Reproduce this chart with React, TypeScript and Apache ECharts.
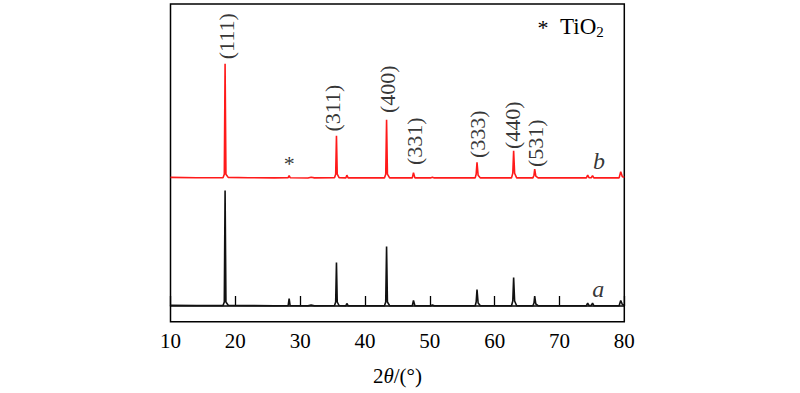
import React, { useEffect, useRef } from "react";
import * as echarts from "echarts";

// Pattern a (black): [2θ, relative intensity]
const patternA: [number, number][] = [
  [10, 0.8], [14, 0.5], [18.1, 0.5], [18.3, 4], [18.42, 115.5], [18.55, 4], [18.9, 0.8],
  [22, 0.5], [26, 0.3], [28.15, 0.5], [28.3, 7.5], [28.45, 0.5], [31.2, 0.2], [31.7, 1], [32.2, 0.3],
  [35.3, 0.5], [35.48, 4], [35.6, 43.5], [35.72, 4], [36.0, 0.5], [37.05, 0.3], [37.2, 2.5], [37.4, 0.3],
  [43.0, 0.3], [43.2, 4], [43.33, 59.5], [43.46, 4], [43.8, 0.3], [47.3, 0.3], [47.48, 5.5], [47.7, 0.3],
  [50.1, 0.3], [50.4, 1], [50.7, 0.3], [57.0, 0.3], [57.15, 4], [57.28, 16.5], [57.45, 3], [57.8, 0.3],
  [62.6, 0.3], [62.8, 5], [62.93, 28.5], [63.08, 5], [63.4, 0.3], [65.9, 0.3], [66.07, 3], [66.18, 10],
  [66.35, 2], [66.7, 0.3], [74.15, 0.3], [74.35, 3], [74.55, 0.5], [74.9, 0.5], [75.1, 3], [75.3, 0.3],
  [79.2, 0.3], [79.45, 5.5], [79.7, 1.5], [80, 1]
];

// Pattern b (red): [2θ, relative intensity]
const patternB: [number, number][] = [
  [10, 0.8], [14, 0.5], [18.1, 0.5], [18.3, 4], [18.42, 114.5], [18.55, 4], [18.9, 0.8],
  [22, 0.5], [26, 0.3], [28.15, 0.5], [28.3, 2.5], [28.45, 0.5], [31.2, 0.2], [31.7, 1], [32.2, 0.3],
  [35.3, 0.5], [35.48, 4], [35.6, 42.5], [35.72, 4], [36.0, 0.5], [37.05, 0.3], [37.2, 3], [37.4, 0.3],
  [43.0, 0.3], [43.2, 4], [43.33, 58.5], [43.46, 4], [43.8, 0.3], [47.3, 0.3], [47.48, 5.5], [47.7, 0.3],
  [50.1, 0.3], [50.4, 1], [50.7, 0.3], [57.0, 0.3], [57.15, 4], [57.28, 16], [57.45, 3], [57.8, 0.3],
  [62.6, 0.3], [62.8, 5], [62.93, 27.5], [63.08, 5], [63.4, 0.3], [65.9, 0.3], [66.07, 3], [66.18, 9],
  [66.35, 2], [66.7, 0.3], [74.15, 0.3], [74.35, 3], [74.55, 0.5], [74.9, 0.5], [75.1, 2.5], [75.3, 0.3],
  [79.2, 0.3], [79.45, 6.5], [79.7, 1.5], [80, 1]
];

// Miller index labels on pattern b: [2θ, height, text]
const peakLabels: [number, number, string][] = [
  [18.6, 142, "(111)"],
  [35.05, 70, "(311)"],
  [43.4, 89, "(400)"],
  [47.6, 37, "(331)"],
  [57.3, 44, "(333)"],
  [62.8, 53, "(440)"],
  [66.25, 35, "(531)"]
];

const xTicks = [10, 20, 30, 40, 50, 60, 70, 80];

const serif = "Liberation Serif";

export default function App() {
  const ref = useRef<HTMLDivElement>(null);
  useEffect(() => {
    if (!ref.current) return;
    const chart = echarts.init(ref.current, null, { renderer: "svg" });
    chart.setOption({
      animation: false,
      backgroundColor: "#ffffff",
      textStyle: { fontFamily: serif },
      grid: {
        left: 170.5,
        right: 175.7,
        top: 4,
        bottom: 71.3,
        show: true,
        borderColor: "#000",
        borderWidth: 1.5,
        backgroundColor: "transparent"
      },
      xAxis: {
        type: "value",
        min: xTicks[0],
        max: xTicks[xTicks.length - 1],
        interval: 10,
        axisLine: { show: true, lineStyle: { color: "#000", width: 1.5 } },
        axisTick: { show: true, inside: true, length: 10, lineStyle: { color: "#000", width: 1.3 } },
        axisLabel: { color: "#000", fontSize: 21, fontFamily: serif, margin: 9 },
        splitLine: { show: false },
        name: "2{i|θ}/(°)",
        nameLocation: "middle",
        nameGap: 44,
        nameTextStyle: {
          color: "#000",
          fontSize: 21,
          fontFamily: serif,
          rich: { i: { fontStyle: "italic", fontSize: 21, fontFamily: serif, color: "#000" } }
        }
      },
      yAxis: [
        { type: "value", min: -15.7, max: 302, show: false, splitLine: { show: false } },
        { type: "value", min: -143.5, max: 174.2, show: false, splitLine: { show: false } }
      ],
      series: [
        {
          type: "line",
          data: patternA,
          yAxisIndex: 0,
          symbol: "none",
          lineStyle: { color: "#111", width: 1.6 },
          z: 2
        },
        {
          type: "line",
          data: patternB,
          yAxisIndex: 1,
          symbol: "none",
          lineStyle: { color: "#ff1a1a", width: 1.6 },
          z: 3
        },
        {
          type: "scatter",
          yAxisIndex: 1,
          data: peakLabels,
          symbolSize: 0,
          silent: true,
          label: {
            show: true,
            position: "inside",
            rotate: 90,
            align: "center",
            verticalAlign: "middle",
            formatter: (p: any) => p.data[2],
            color: "#000",
            fontSize: 22,
            fontFamily: serif
          },
          z: 5
        },
        {
          type: "scatter",
          yAxisIndex: 1,
          data: [[28.3, 15, "*"], [76.1, 17.5, "b"]],
          symbolSize: 0,
          silent: true,
          label: {
            show: true,
            position: "inside",
            align: "center",
            verticalAlign: "middle",
            formatter: (p: any) => (p.data[2] === "b" ? "{i|b}" : "*"),
            color: "#000",
            fontSize: 22,
            fontFamily: serif,
            rich: { i: { fontStyle: "italic", fontSize: 24, fontFamily: serif, color: "#000" } }
          },
          z: 5
        },
        {
          type: "scatter",
          yAxisIndex: 0,
          data: [[76.0, 17.5, "a"]],
          symbolSize: 0,
          silent: true,
          label: {
            show: true,
            position: "inside",
            align: "center",
            verticalAlign: "middle",
            formatter: "{i|a}",
            color: "#000",
            rich: { i: { fontStyle: "italic", fontSize: 24, fontFamily: serif, color: "#000" } }
          },
          z: 5
        }
      ],
      graphic: [
        {
          type: "text",
          x: 543,
          y: 27,
          style: {
            text: "*",
            font: `22px "${serif}"`,
            fill: "#000",
            align: "center",
            verticalAlign: "middle"
          }
        },
        {
          type: "text",
          x: 560,
          y: 26,
          style: {
            text: "TiO{s|2}",
            font: `23px "${serif}"`,
            fill: "#000",
            align: "left",
            verticalAlign: "middle",
            rich: {
              s: { fontSize: 15, fontFamily: serif, fill: "#000", verticalAlign: "bottom", padding: [12, 0, 0, 0] }
            }
          }
        }
      ]
    });
    return () => chart.dispose();
  }, []);
  return <div ref={ref} style={{ width: 800, height: 393, position: "absolute", left: 0, top: 0 }} />;
}
